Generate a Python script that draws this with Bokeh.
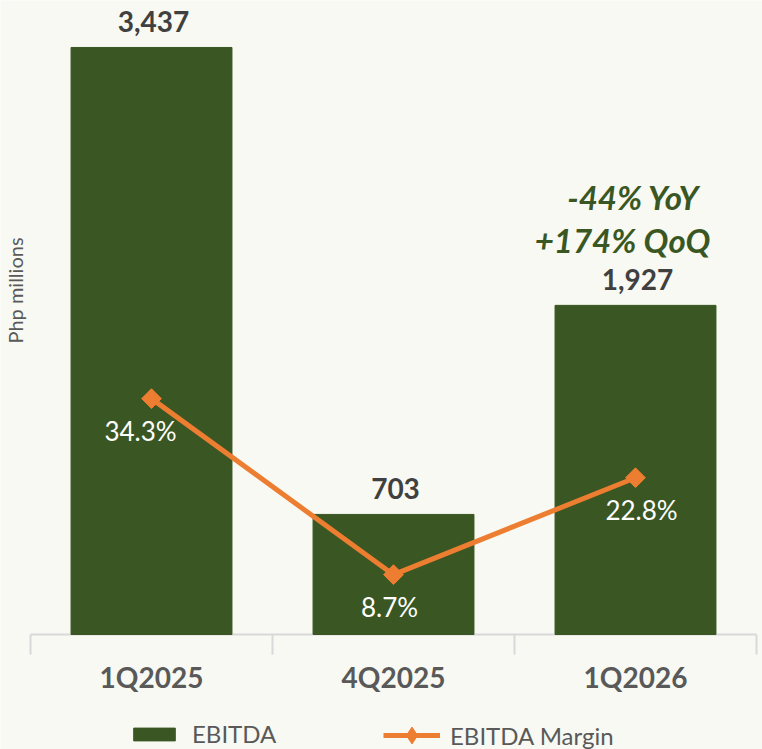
from bokeh.plotting import figure
from bokeh.models import Range1d, Legend, LegendItem, Label
from bokeh.core.properties import value
from bokeh.embed import file_html
from bokeh.resources import INLINE
import math

# ---- data ----
quarters = ["1Q2025", "4Q2025", "1Q2026"]
ebitda = [3437, 703, 1927]
margin = [34.3, 8.7, 22.8]
ebitda_labels = ["3,437", "703", "1,927"]
margin_labels = ["34.3%", "8.7%", "22.8%"]
growth_notes = ["-44% YoY", "+174% QoQ"]

# ---- layout / styles ----
W, H = 762, 749
LEFT_PX, RIGHT_PX = 30, 756   # pixel columns of the category axis ends
BASE_PX = 634                 # pixel row of the zero line
Y_TOP = 3712                  # EBITDA value at the top edge
PCT_TOP = 92.2                # margin value at the top edge
UPP = Y_TOP / BASE_PX         # EBITDA units per pixel
PPP = PCT_TOP / BASE_PX       # percent units per pixel
n = len(quarters)
XPP = n / (RIGHT_PX - LEFT_PX)  # category units per pixel
BG = "#f7f9f2"
GREEN = "#3a5723"
ORANGE = "#ed7d31"
DARK = "#404040"
GREY = "#595959"
AXIS = "#d9d9d9"
FONT = "Lato"

xs = [i + 0.5 for i in range(n)]
bounds = list(range(n + 1))

p = figure(width=W, height=H, output_backend="svg", toolbar_location=None,
           x_range=Range1d(-LEFT_PX * XPP, n + (W - RIGHT_PX) * XPP),
           y_range=Range1d(-(H - BASE_PX) * UPP, Y_TOP),
           x_axis_location=None, y_axis_location=None,
           min_border_left=0, min_border_right=0, min_border_top=0,
           min_border_bottom=0)
p.extra_y_ranges = {"pct": Range1d(-(H - BASE_PX) * PPP, PCT_TOP)}
p.background_fill_color = BG
p.border_fill_color = BG
p.outline_line_color = None
p.xgrid.visible = False
p.ygrid.visible = False

# category axis: baseline, separators, labels
p.segment(x0=[bounds[0]], y0=[0], x1=[bounds[-1]], y1=[0], line_color=AXIS, line_width=2)
p.segment(x0=bounds, y0=[0] * len(bounds), x1=bounds, y1=[-20 * UPP] * len(bounds),
          line_color=AXIS, line_width=2)
p.text(xs, [0] * n, text=quarters, text_font=value(FONT),
       text_font_style="bold", text_font_size="28px", text_color=GREY,
       text_align="center", text_baseline="middle", y_offset=42)

bars = p.vbar(x=xs, top=ebitda, width=0.665, color=GREEN)
line = p.line(xs, margin, y_range_name="pct", line_width=5, color=ORANGE)
# diamond drawn underneath (used by the legend), rotated squares on top
legend_marks = p.scatter(xs, margin, y_range_name="pct", marker="diamond", size=18,
                         color=ORANGE)
marks = p.scatter(xs, margin, y_range_name="pct", marker="square", angle=math.pi / 4,
                  size=14, color=ORANGE)

# value labels above bars
p.text(xs, ebitda, text=ebitda_labels, text_font=value(FONT), text_font_style="bold",
       text_font_size="28px", text_color=DARK, text_align="center",
       text_baseline="middle", y_offset=-26, x_offset=2)

# margin labels below points
margin_dx = [-11, -4, 6]
p.text(xs, margin, text=margin_labels, y_range_name="pct", text_font=value(FONT),
       text_font_size="26px", text_color="white", text_align="center",
       text_baseline="middle", y_offset=32, x_offset=margin_dx)

# growth note above last bar
p.text([xs[2], xs[2]], [ebitda[2], ebitda[2]], text=growth_notes,
       text_font=value(FONT), text_font_style="bold italic", text_font_size="33px",
       text_color=GREEN, text_align="center", text_baseline="middle",
       y_offset=[-108, -65], x_offset=[-2, -13])

# y label
p.add_layout(Label(x=(14 - LEFT_PX) * XPP, y=(BASE_PX - 290) * UPP, text="Php millions",
                   angle=math.pi / 2, text_font=FONT, text_font_size="20px",
                   text_color=GREY, text_align="center", text_baseline="middle"))

common = dict(orientation="horizontal", label_text_font=FONT,
              label_text_font_size="24px", label_text_color=GREY,
              background_fill_alpha=0, border_line_color=None, padding=0, margin=0)
leg1 = Legend(items=[LegendItem(label="EBITDA", renderers=[bars])],
              location=(128, 1), glyph_width=52, glyph_height=16, label_height=16,
              label_standoff=12, **common)
leg2 = Legend(items=[LegendItem(label="EBITDA Margin", renderers=[line, legend_marks])],
              location=(383, -7), glyph_width=57, glyph_height=42, label_height=42,
              label_standoff=10, **common)
p.add_layout(leg1, "center")
p.add_layout(leg2, "center")

open("out.html", "w").write(file_html(p, INLINE))
